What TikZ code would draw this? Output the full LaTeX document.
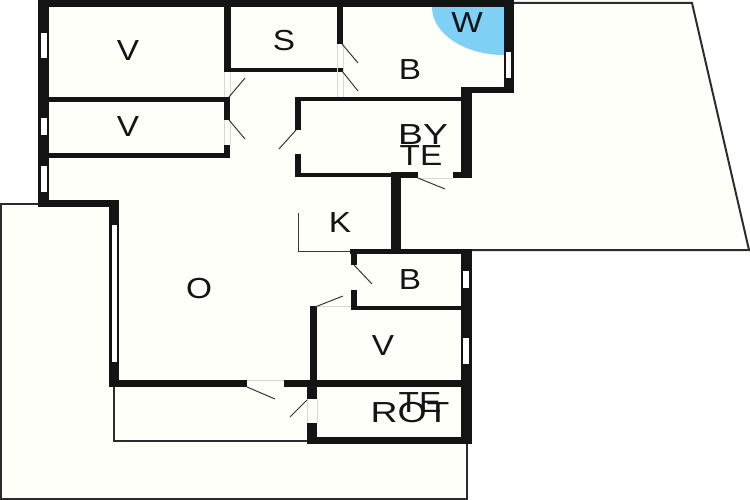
\documentclass[tikz,border=0pt]{standalone}
\usepackage{fontspec}
\setmainfont{Liberation Sans}
\definecolor{floorcol}{HTML}{FFFFFA}
\definecolor{wallcol}{HTML}{141414}
\definecolor{wetcol}{HTML}{7FD0F5}
\definecolor{gapcol}{HTML}{D8D8D4}
\tikzset{
    roomlabel/.style={font=\fontsize{29}{29}\selectfont, text=wallcol, inner sep=0pt, xscale=1.15, anchor=center},
    widelabel/.style={roomlabel, xscale=1.12},
    wall/.style={fill=wallcol, draw=none},
    glass/.style={fill=white, draw=none},
    leaf/.style={draw=wallcol!85, line width=1pt},
    outline/.style={draw=wallcol!90, line width=2pt},
    gapline/.style={draw=gapcol, line width=0.7pt},
}
\begin{document}
\begin{tikzpicture}[x=1pt,y=-1pt]
                \useasboundingbox (0,0) rectangle (750,500);
                \fill[white] (0,0) rectangle (750,500);
                \fill[floorcol] (38,0) -- (514,3) -- (692,3) -- (749,250) -- (471,250) -- (467,499) -- (1,499) -- (1,204) -- (38,204) -- cycle;
                \fill[wetcol] (504,7) -- (432,7) arc[start angle=180, end angle=90, x radius=72, y radius=48] -- cycle;
                \draw[outline] (514,3) -- (692,3) -- (749,250) -- (471,250);
                \draw[outline] (38,204) -- (1,204) -- (1,499) -- (467,499) -- (467,444);
                \draw[outline] (114,387) -- (114,441) -- (307,441);
                \draw[leaf] (298,213) -- (298,251) -- (350,251);
                \foreach \xa/\ya/\xb/\yb in {38/0/514/7, 38/0/49/207, 38/200/119/207, 109/200/119/387, 109/380/247/387, 284/380/472/387,
                    310/306/317/387, 307/385/317/399, 307/423/317/444, 307/437/472/444, 461/250/472/444, 350/249/472/254, 351/249/357/265, 351/290/357/310, 351/306/461/310,
                    391/173/401/254, 295/173/395/177, 391/172/418/178, 453/172/472/178, 461/87/472/178, 461/87/514/93, 504/0/514/93,
                    295/97/461/101, 295/97/301/130, 295/154/301/177,
                    224/7/231/72, 224/68/343/72, 337/7/343/44, 49/97/230/102, 224/97/230/120, 224/145/230/158, 49/153/230/158} {
                    \fill[wall] (\xa,\ya) rectangle (\xb,\yb);
                }
                \foreach \xa/\ya/\xb/\yb in {41/33/47/58, 41/118/47/135, 41/166/47/192, 112/225/117/362, 463/271/469/288, 463/338/469/364, 506/52/511/78} {
                    \fill[glass] (\xa,\ya) rectangle (\xb,\yb);
                }
                \foreach \xa/\ya/\xb/\yb in {224/72/224/97, 230/72/230/97, 224/120/224/145, 230/120/230/145, 337/44/337/97, 343/44/343/97,
                    247/380/284/380, 307/399/307/423, 317/399/317/423, 418/178/453/178, 316/306/351/306} {
                    \draw[gapline] (\xa,\ya) -- (\xb,\yb);
                }
                \foreach \xa/\ya/\xb/\yb in {229/97/245/78, 229/120/245/139, 342/44/358/63, 342/71/358/91, 296/130/279/149,
                    418/178/445/189, 354/265/372/284, 315/307/343/296, 247/387/275/399, 307/400/290/417} {
                    \draw[leaf] (\xa,\ya) -- (\xb,\yb);
                }
                \node[roomlabel] (bedtop) at (128,51) {V};
                \node[roomlabel] (bedmid) at (128,127) {V};
                \node[roomlabel] (store) at (284,41) {S};
                \node[roomlabel] (bathtop) at (410,70) {B};
                \node[roomlabel] (washer) at (467,23) {W};
                \node[widelabel] (bytop) at (423,135) {BY};
                \node[roomlabel] (bybot) at (421,156) {TE};
                \node[roomlabel] (kitchen) at (340,223) {K};
                \node[roomlabel] (living) at (199,289) {O};
                \node[roomlabel] (bathlow) at (410,280) {B};
                \node[roomlabel] (bedlow) at (383,346) {V};
                \node[roomlabel] (rottop) at (420,403) {TE};
                \node[widelabel] (rot) at (410,413) {ROT};
            \end{tikzpicture}
\end{document}
